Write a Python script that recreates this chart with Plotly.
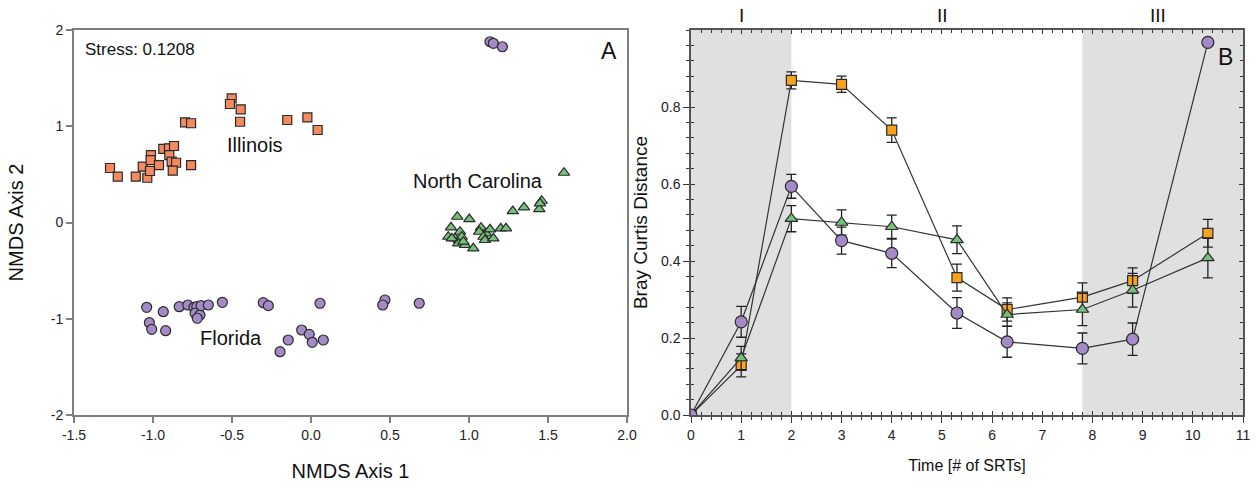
import plotly.graph_objects as go

# ---------------- Panel A data (NMDS) ----------------
il_x = [-1.272, -1.223, -1.109, -1.065, -1.036, -1.019, -1.013, -1.015, -0.962, -0.935, -0.899, -0.867,
        -0.897, -0.882, -0.854, -0.875, -0.759, -0.797, -0.759, -0.502, -0.513, -0.445, -0.449, -0.150,
        -0.023, 0.042]
il_y = [0.566, 0.476, 0.476, 0.580, 0.465, 0.535, 0.701, 0.649, 0.597, 0.764, 0.771, 0.795,
        0.701, 0.632, 0.621, 0.538, 0.597, 1.041, 1.031, 1.290, 1.231, 1.176, 1.047, 1.065,
        1.093, 0.961]

nc_x = [1.601, 1.277, 1.348, 1.445, 1.460, 1.449, 0.926, 1.002, 0.886, 0.943, 0.869, 0.911, 0.937,
        0.954, 0.932, 0.975, 1.027, 1.076, 1.108, 1.065, 1.091, 1.133, 1.101, 1.154, 1.201, 1.234,
        0.964, 0.891]
nc_y = [0.517, 0.119, 0.158, 0.140, 0.226, 0.199, 0.060, 0.036, -0.050, -0.096, -0.148, -0.164, -0.182,
        -0.148, -0.216, -0.234, -0.268, -0.054, -0.112, -0.096, -0.148, -0.071, -0.182, -0.164, -0.060,
        -0.060, -0.199, -0.164]

fl_x = [-1.040, -0.935, -0.834, -0.780, -0.741, -0.723, -0.734, -0.703, -0.720, -0.696, -0.650, -0.561,
        -0.302, -0.270, 0.057, 0.468, 0.454, 0.685, -1.023, -1.008, -0.920, -0.059, -0.011, 0.008,
        0.078, -0.144, -0.196, 1.133, 1.154, 1.211]
fl_y = [-0.881, -0.927, -0.875, -0.857, -0.881, -0.875, -0.943, -0.961, -0.995, -0.864, -0.857, -0.829,
        -0.833, -0.864, -0.839, -0.805, -0.857, -0.839, -1.041, -1.110, -1.124, -1.117, -1.162, -1.245,
        -1.221, -1.221, -1.342, 1.878, 1.862, 1.826]

a_xticks = [-1.5, -1.0, -0.5, 0.0, 0.5, 1.0, 1.5, 2.0]
a_yticks = [-2, -1, 0, 1, 2]

# ---------------- Panel B data (Bray Curtis) ----------------
t = [0, 1, 2, 3, 4, 5.3, 6.3, 7.8, 8.8, 10.3]
sq_y = [0.0, 0.129, 0.869, 0.859, 0.740, 0.357, 0.274, 0.306, 0.349, 0.472]
sq_e = [0.0, 0.030, 0.022, 0.021, 0.032, 0.035, 0.030, 0.037, 0.033, 0.036]
tr_y = [0.0, 0.148, 0.510, 0.500, 0.489, 0.455, 0.261, 0.274, 0.324, 0.408]
tr_e = [0.0, 0.030, 0.034, 0.033, 0.030, 0.036, 0.030, 0.042, 0.044, 0.052]
ci_y = [0.0, 0.242, 0.594, 0.453, 0.420, 0.265, 0.190, 0.173, 0.197, 0.968]
ci_e = [0.0, 0.040, 0.031, 0.035, 0.037, 0.040, 0.040, 0.040, 0.042, 0.005]

b_xticks = list(range(0, 12))
b_yticks = [0.0, 0.2, 0.4, 0.6, 0.8]
phases = ["I", "II", "III"]
phase_x = [1.0, 5.02, 9.3]
shade_ranges = [(0, 2), (7.8, 11)]

FONT = "Arial, Liberation Sans, sans-serif"
C_IL = "#F48A5E"
C_SQ = "#F8A21E"
C_TR = "#74C27A"
C_CI = "#A58AC8"
EDGE = "#2a2a2a"

fig = go.Figure()

# Panel A traces
fig.add_trace(go.Scatter(x=il_x, y=il_y, mode="markers", xaxis="x", yaxis="y",
                         marker=dict(symbol="square", size=9, color=C_IL, line=dict(color=EDGE, width=1.2)),
                         showlegend=False))
fig.add_trace(go.Scatter(x=nc_x, y=nc_y, mode="markers", xaxis="x", yaxis="y",
                         marker=dict(symbol="triangle-up", size=10, color=C_TR, line=dict(color=EDGE, width=1.2)),
                         showlegend=False))
fig.add_trace(go.Scatter(x=fl_x, y=fl_y, mode="markers", xaxis="x", yaxis="y",
                         marker=dict(symbol="circle", size=10, color=C_CI, line=dict(color=EDGE, width=1.2)),
                         showlegend=False))

# Panel B traces
def series(y, e, sym, col, size):
    return go.Scatter(x=t, y=y, mode="lines+markers", xaxis="x2", yaxis="y2",
                      line=dict(color="#333333", width=1.2),
                      marker=dict(symbol=sym, size=size, color=col, line=dict(color=EDGE, width=1.2)),
                      error_y=dict(type="data", array=e, visible=True, color="#222222", thickness=1.3, width=5),
                      showlegend=False)

fig.add_trace(series(sq_y, sq_e, "square", C_SQ, 10))
fig.add_trace(series(tr_y, tr_e, "triangle-up", C_TR, 11))
fig.add_trace(series(ci_y, ci_e, "circle", C_CI, 12))

# invisible trace to register the overlay tick axes
fig.add_trace(go.Scatter(x=[None], y=[None], xaxis="x3", yaxis="y3", showlegend=False, hoverinfo="skip"))

dom_y = [1 - 415 / 486, 1 - 30 / 486]
dom_a = [74 / 1258, 627 / 1258]
dom_b = [691 / 1258, 1243 / 1258]

axA = dict(showgrid=False, zeroline=False, showline=True, linecolor="#7f7f7f", linewidth=2,
           ticks="outside", ticklen=6, tickcolor="#7f7f7f", tickwidth=1.5, automargin=False,
           tickfont=dict(family=FONT, size=14, color="#222222"), mirror=True)

fig.update_layout(
    width=1258, height=486,
    margin=dict(l=0, r=0, t=0, b=0, autoexpand=False),
    paper_bgcolor="white", plot_bgcolor="white",
    font=dict(family=FONT, color="#111111"),
    xaxis=dict(axA, domain=dom_a, anchor="y", range=[-1.5, 2.0], tickvals=a_xticks,
               ticktext=[f"{v:.1f}" for v in a_xticks],
               title=dict(text="NMDS Axis 1", font=dict(size=20, family=FONT), standoff=22)),
    yaxis=dict(axA, domain=dom_y, anchor="x", range=[-2, 2], tickvals=a_yticks,
               ticktext=[str(v) for v in a_yticks],
               title=dict(text="NMDS Axis 2", font=dict(size=20, family=FONT), standoff=22)),
    xaxis2=dict(domain=dom_b, anchor="y2", range=[0, 11], tickvals=b_xticks, automargin=False,
                showgrid=False, zeroline=False, showline=True, linecolor="#555555", linewidth=1.5,
                ticks="outside", ticklen=6, tickcolor="#333333", tickwidth=1.2,
                minor=dict(ticks="outside", ticklen=3, dtick=0.2, tickcolor="#333333", tickwidth=1),
                tickfont=dict(family=FONT, size=14, color="#222222"),
                title=dict(text="Time [# of SRTs]", font=dict(size=16, family=FONT), standoff=18)),
    yaxis2=dict(domain=dom_y, anchor="x2", range=[0, 1.0], tickvals=b_yticks, automargin=False,
                ticktext=[f"{v:.1f}" for v in b_yticks],
                showgrid=False, zeroline=False, showline=True, linecolor="#555555", linewidth=1.5,
                ticks="outside", ticklen=6, tickcolor="#333333", tickwidth=1.2,
                minor=dict(ticks="outside", ticklen=3, dtick=0.04, tickcolor="#333333", tickwidth=1),
                tickfont=dict(family=FONT, size=14, color="#222222"),
                title=dict(text="Bray Curtis Distance", font=dict(size=19, family=FONT), standoff=8)),
    xaxis3=dict(domain=dom_b, anchor="y3", overlaying="x2", range=[0, 11], tickvals=b_xticks,
                showticklabels=False, showgrid=False, zeroline=False, showline=True, automargin=False,
                linecolor="#555555", linewidth=1.5, mirror="ticks",
                ticks="inside", ticklen=4, tickcolor="#333333", tickwidth=1.2,
                minor=dict(ticks="inside", ticklen=3, dtick=0.2, tickcolor="#333333", tickwidth=1)),
    yaxis3=dict(domain=dom_y, anchor="x3", overlaying="y2", range=[0, 1.0], tickvals=b_yticks + [1.0],
                showticklabels=False, showgrid=False, zeroline=False, showline=True, automargin=False,
                linecolor="#555555", linewidth=1.5, mirror="ticks",
                ticks="inside", ticklen=4, tickcolor="#333333", tickwidth=1.2,
                minor=dict(ticks="inside", ticklen=3, dtick=0.04, tickcolor="#333333", tickwidth=1)),
)

# shaded phases
for x0, x1 in shade_ranges:
    fig.add_shape(type="rect", xref="x2", yref="y2 domain", x0=x0, x1=x1, y0=0, y1=1,
                  fillcolor="#e0e0e0", line=dict(width=0), layer="below")

# Panel A annotations
ann = [
    dict(x=-0.354, y=0.805, text="Illinois", xref="x", yref="y", size=20),
    dict(x=1.057, y=0.43, text="North Carolina", xref="x", yref="y", size=20),
    dict(x=-0.506, y=-1.2, text="Florida", xref="x", yref="y", size=20),
]
for a in ann:
    fig.add_annotation(x=a["x"], y=a["y"], xref=a["xref"], yref=a["yref"], text=a["text"],
                       showarrow=False, font=dict(family=FONT, size=a["size"], color="#111111"))
fig.add_annotation(x=0.017, y=0.95, xref="x domain", yref="y domain", text="Stress: 0.1208",
                   showarrow=False, xanchor="left", yanchor="middle",
                   font=dict(family=FONT, size=17, color="#111111"))
fig.add_annotation(x=0.985, y=0.945, xref="x domain", yref="y domain", text="A",
                   showarrow=False, xanchor="right", yanchor="middle",
                   font=dict(family=FONT, size=23, color="#111111"))
fig.add_annotation(x=0.985, y=0.93, xref="x2 domain", yref="y2 domain", text="B",
                   showarrow=False, xanchor="right", yanchor="middle",
                   font=dict(family=FONT, size=23, color="#111111"))
for lab, px in zip(phases, phase_x):
    fig.add_annotation(x=px, y=1.0, xref="x2", yref="y2 domain", text=lab, showarrow=False,
                       yanchor="bottom", yshift=2, font=dict(family=FONT, size=19, color="#111111"))

fig.write_html("out.html")
